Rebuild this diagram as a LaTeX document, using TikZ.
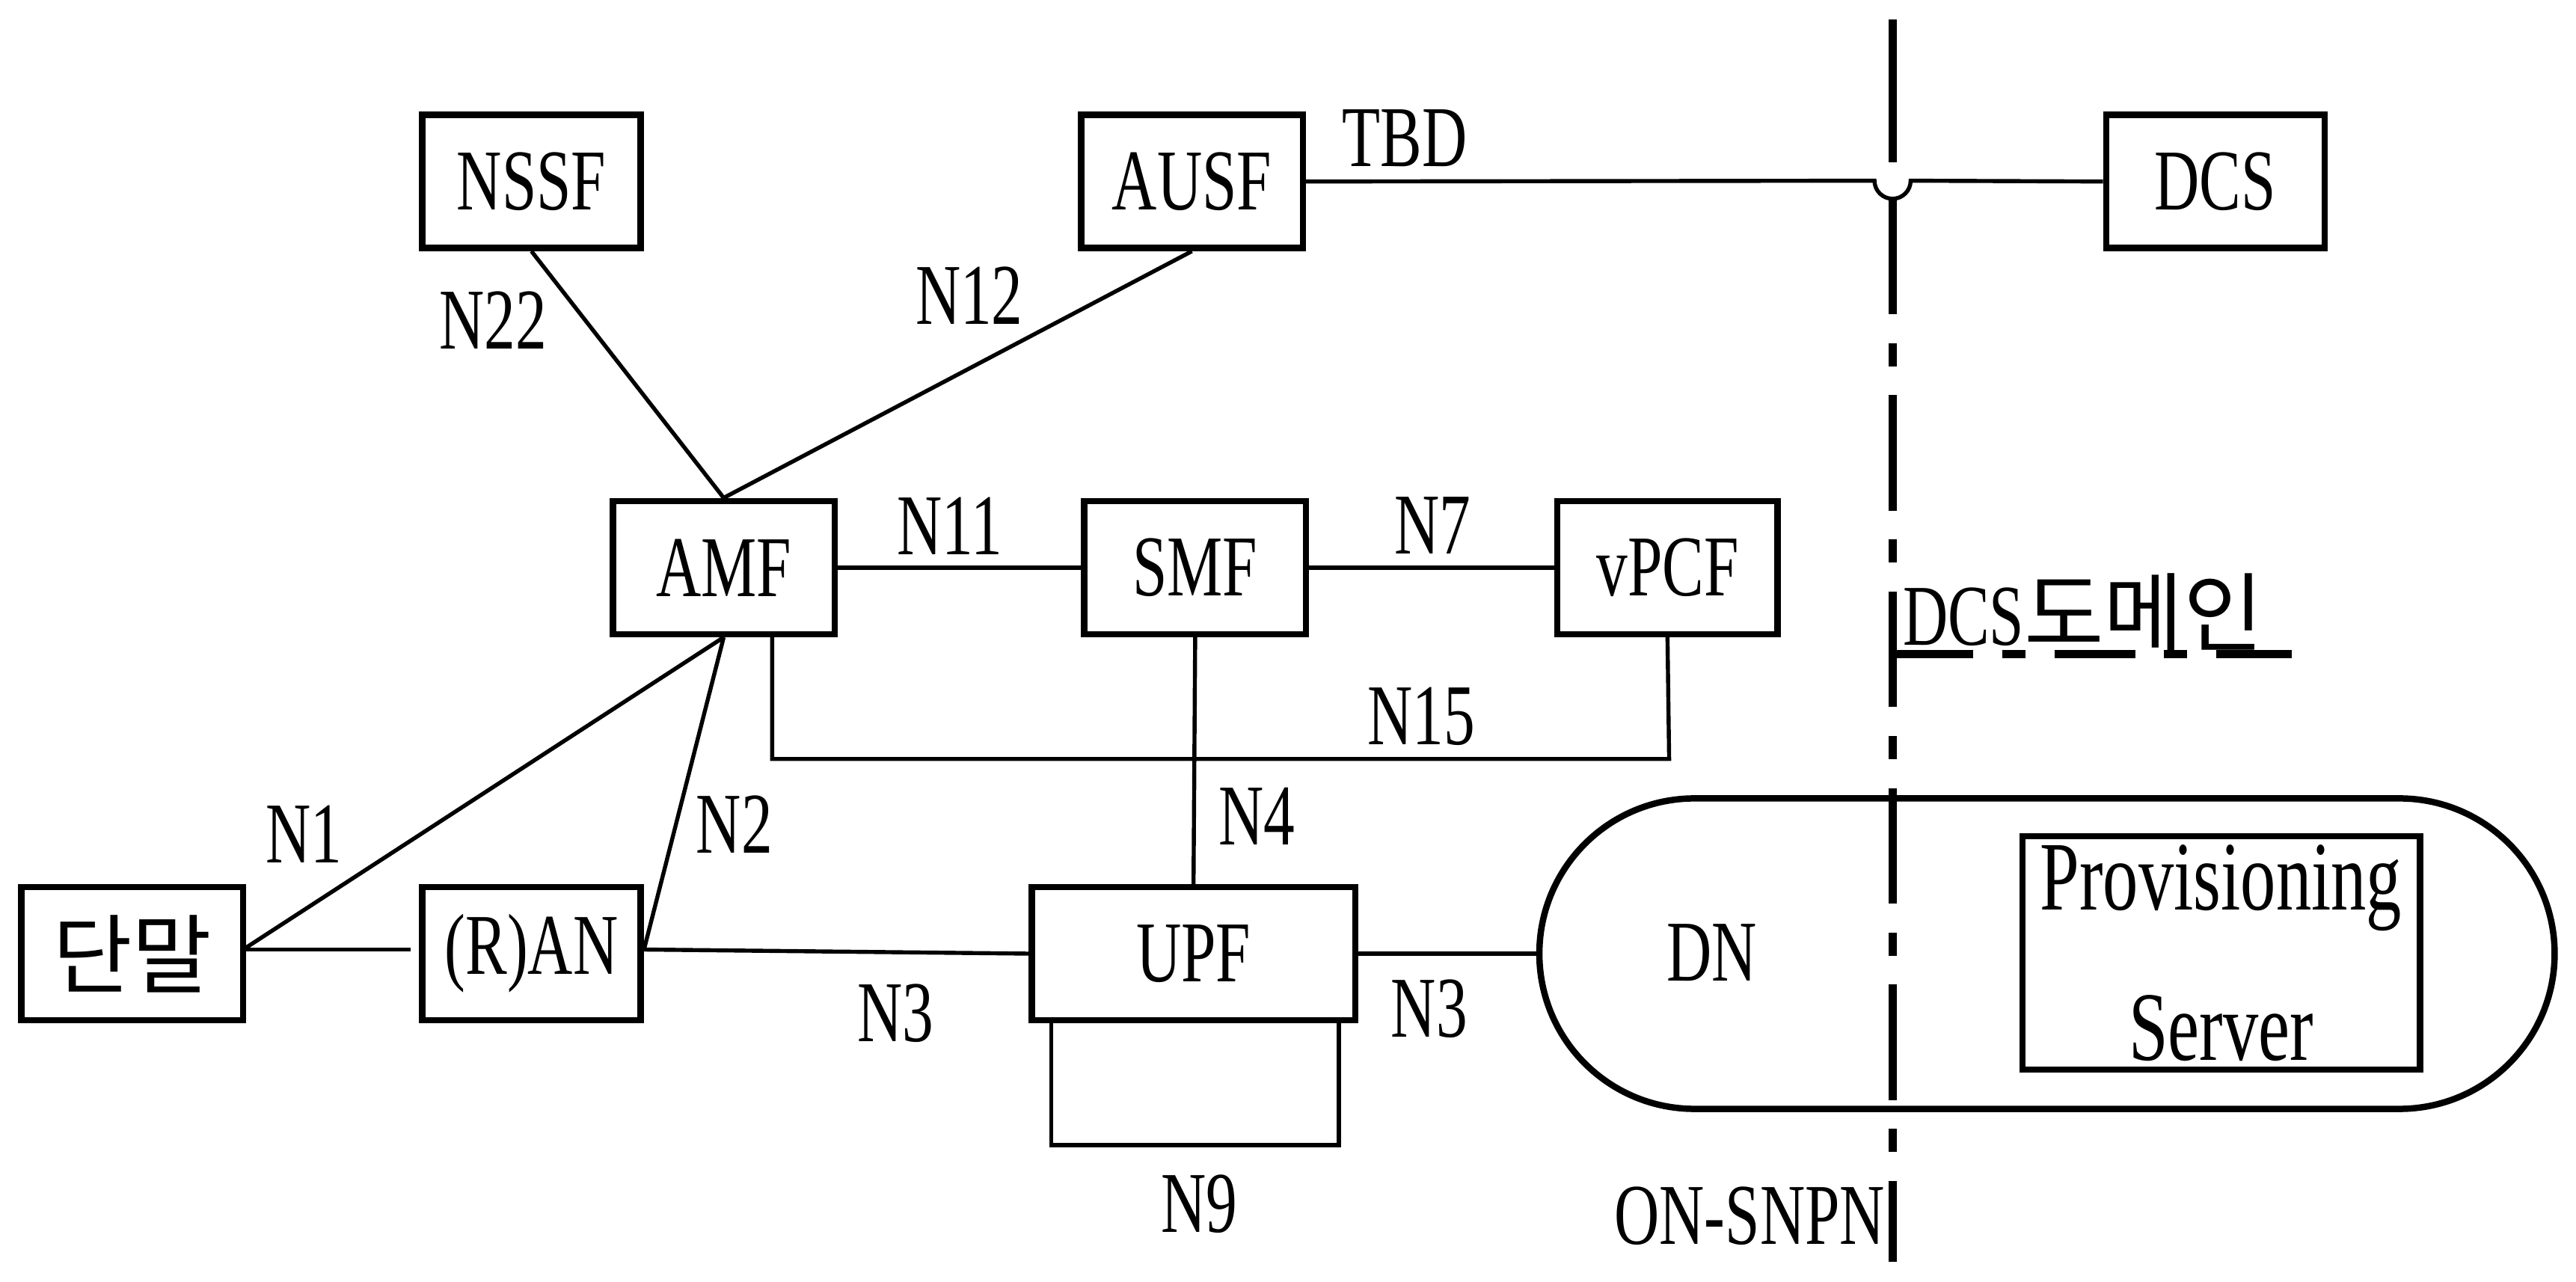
\documentclass[tikz,border=0pt]{standalone}
\usepackage{fontspec}
\setmainfont{Liberation Serif}[FakeStretch=0.72]
\newfontfamily\kr{Noto Sans CJK KR}
\begin{document}
\begin{tikzpicture}[x=0.01cm,y=-0.01cm,
  box/.style={draw,line width=1.1pt,inner sep=0},
  ln/.style={line width=0.7pt},
  lb/.style={font=\fontsize{15}{16}\selectfont}]
\useasboundingbox (0,0) rectangle (1568,780);
\fill[white] (0,0) rectangle (1568,780);
\newcommand{\bx}[6]{\node[box,minimum width=#4*0.01cm,minimum height=#5*0.01cm,lb] (#1) at (#2,#3) {#6};}
\bx{nssf}{323.5}{110.5}{133}{81}{NSSF}
\bx{ausf}{725.5}{110.5}{135}{81}{AUSF}
\bx{dcs}{1348.5}{110.5}{133}{81}{DCS}
\bx{amf}{440.5}{345.5}{135}{81}{AMF}
\bx{smf}{727.5}{345.5}{135}{81}{SMF}
\bx{vpcf}{1015}{345.5}{134}{81}{vPCF}
\bx{ue}{80.5}{580.5}{135}{81}{\kr 단말}
\bx{ran}{323.5}{580.5}{133}{81}{(R)AN}
\bx{upf}{726.5}{580.5}{197}{81}{UPF}
\node[box,rounded corners=94.5*0.01cm,minimum width=618*0.01cm,minimum height=189*0.01cm] (dn) at (1246,580.5) {};
\node[lb] (dnl) at (1042,580) {DN};
\node[box,minimum width=242*0.01cm,minimum height=142*0.01cm,align=center,lb,font=\fontsize{17}{26}\selectfont] (ps) at (1352,580) {Provisioning\\Server};
% connectors
\draw[ln] (nssf.south) -- (amf.north);
\draw[ln] (ausf.south) -- (amf.north);
\coordinate (h1) at (1141,110); \coordinate (h2) at (1163,110);
\draw[ln] (ausf.east) -- (h1) arc[start angle=180,end angle=0,radius=11] -- (dcs.west);
\draw[ln] (amf.east) -- (smf.west);
\draw[ln] (smf.east) -- (vpcf.west);
\draw[ln] (470,386) |- (1016,462) -- (vpcf.south);
\draw[ln] (smf.south) -- (upf.north);
\coordinate (uej) at (148,578);
\draw[ln] (uej) -- (amf.south);
\draw[ln] (uej) -- (250,578);
\draw[ln] (392,578) -- (amf.south);
\draw[ln] (392,578) -- (upf.west);
\draw[ln] (upf.east) -- (dn.west);
\draw[ln] (640,621) -- (640,697) -- (815,697) -- (815,621);
% domain lines
\draw[line width=1.4pt,dash pattern=on 34pt off 5pt on 4pt off 5pt] (1152,12) -- (1152,99);
\draw[line width=1.4pt,dash pattern=on 20pt off 5pt on 4pt off 5pt] (1152,121) -- (1152,768);
\draw[line width=1.4pt,dash pattern=on 14pt off 5pt on 4pt off 5pt] (1152,398) -- (1395,398);
% labels
\node[lb] at (300,195) {N22};
\node[lb] at (590,180) {N12};
\node[lb] at (855,84) {TBD};
\node[lb] at (578,320) {N11};
\node[lb] at (872,320) {N7};
\node[lb] at (865,436) {N15};
\node[lb] at (185,508) {N1};
\node[lb] at (447,502) {N2};
\node[lb] at (765,497) {N4};
\node[lb] at (545,617) {N3};
\node[lb] at (870,614) {N3};
\node[lb] at (730,733) {N9};
\node[lb] at (1065,740) {ON-SNPN};
\node[lb] at (1268,373) {DCS{\kr 도메인}};
\end{tikzpicture}
\end{document}
